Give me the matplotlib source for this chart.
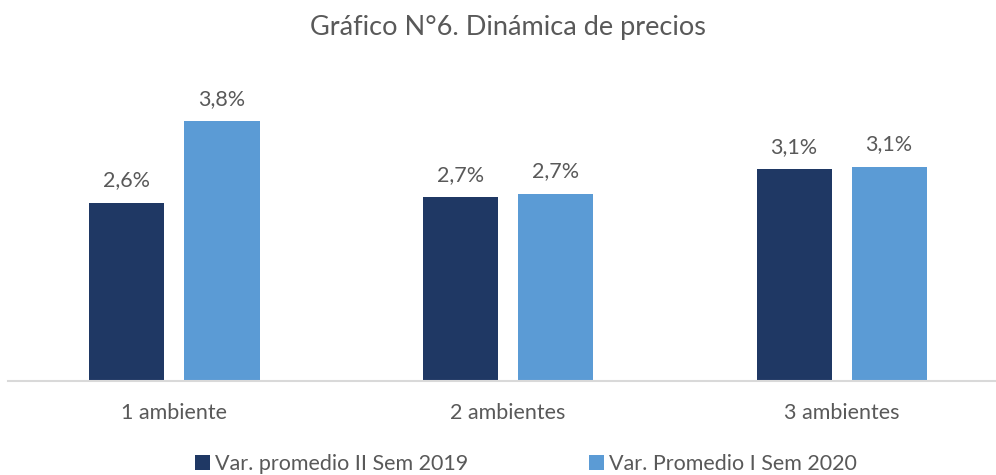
import matplotlib
matplotlib.use("Agg")
import matplotlib.pyplot as plt
import numpy as np
from matplotlib.patches import Patch

categories = ["1 ambiente", "2 ambientes", "3 ambientes"]
series_names = ["Var. promedio II Sem 2019", "Var. Promedio I Sem 2020"]
var_2019 = [2.61, 2.69, 3.10]
var_2020 = [3.80, 2.74, 3.14]
colors = ["#1f3864", "#5b9bd5"]

TEXT = "#595959"
plt.rcParams["font.family"] = ["Lato", "DejaVu Sans"]

fig = plt.figure(figsize=(9.96, 4.75), dpi=100)
# axes: x from 8px to 996px, baseline at y=381px
ax = fig.add_axes([8 / 996, (475 - 381) / 475, 988 / 996, (381 - 60) / 475])

x = np.arange(len(categories))
width = 0.225
offset = 0.1425
for vals, col, dx in [(var_2019, colors[0], -offset), (var_2020, colors[1], offset)]:
    bars = ax.bar(x + dx, vals, width, color=col)
    for b, v in zip(bars, vals):
        ax.annotate(f"{v:.1f}%".replace(".", ","), (b.get_x() + b.get_width() / 2, v),
                    xytext=(0, 9), textcoords="offset points",
                    ha="center", va="bottom", fontsize=15.5, color=TEXT)

ax.set_xlim(-0.499, 2.463)
ax.set_ylim(0, (381 - 60) / 68.3)
ax.set_yticks([])
ax.set_xticks(x)
ax.set_xticklabels(categories, fontsize=15.5, color=TEXT)
ax.tick_params(axis="x", length=0, pad=16)
for s in ["top", "right", "left"]:
    ax.spines[s].set_visible(False)
ax.spines["bottom"].set_color("#d9d9d9")
ax.spines["bottom"].set_linewidth(1.5)

fig.text(508 / 996, 1 - 27 / 475, "Gráfico N°6. Dinámica de precios",
         ha="center", va="center", fontsize=19.5, color=TEXT)

handles = [Patch(facecolor=c) for c in colors]
fig.legend(handles, series_names, loc="center", bbox_to_anchor=(526 / 996, 1 - 464 / 475),
           ncol=2, frameon=False, fontsize=15.5, labelcolor=TEXT,
           handlelength=0.7, handleheight=0.7, handletextpad=0.25, columnspacing=5.6)

fig.savefig("out.png", dpi=100)
